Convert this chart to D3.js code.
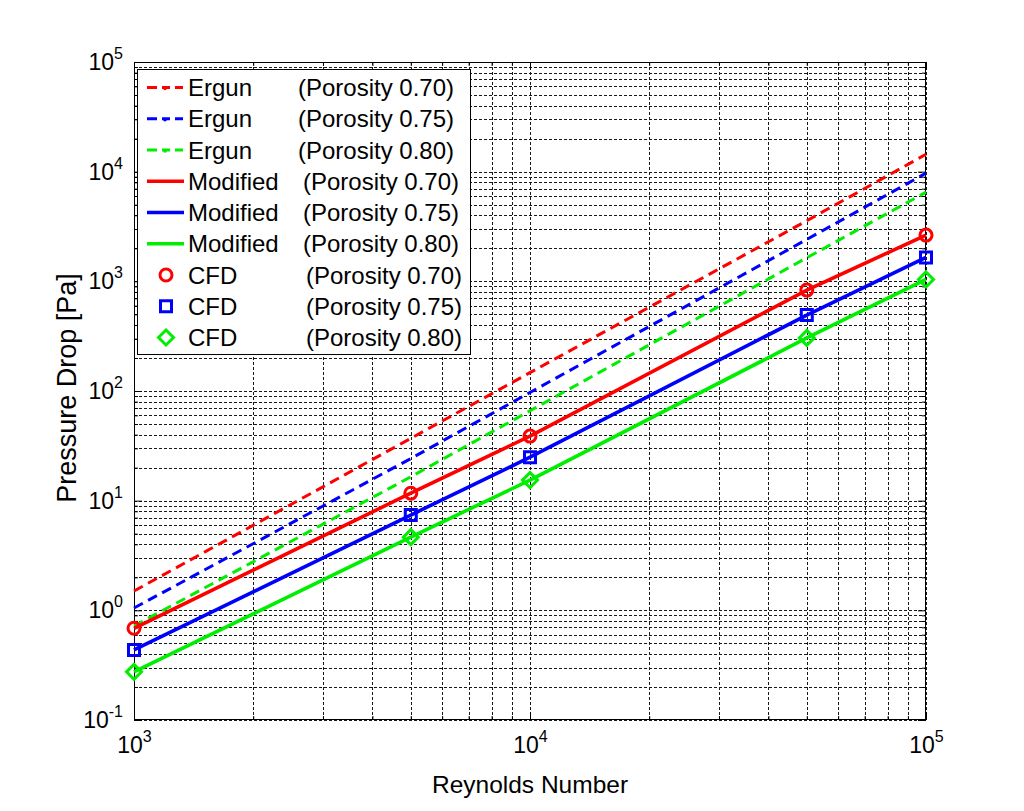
<!DOCTYPE html>
<html lang="en">
<head>
    <meta charset="UTF-8">
    <title>Pressure Drop vs Reynolds Number</title>
    <style>
        body { margin: 0; background: #fff; }
        svg { font-family: "Liberation Sans", Arial, sans-serif; }
        .axis path.domain { display: none; }
        .axis line { stroke: #000; stroke-width: 1; }
        .axis text { font-size: 23px; fill: #000; }
    </style>
</head>
<body>
    <svg width="1024" height="811"></svg>
    <script src="https://cdn.jsdelivr.net/npm/d3@7"></script>
    <script>
        // Reynolds numbers the curves / CFD runs were evaluated at
        var reynolds = [1e3, 5e3, 1e4, 5e4, 1e5];

        // Ergun equation (dashed)
        var ergun70 = [1.5, 37, 147, 3570, 14400];
        var ergun75 = [1.05, 24.2, 97, 2410, 9700];
        var ergun80 = [0.72, 16.5, 66, 1640, 6500];

        // Modified correlation (solid)
        var modified70 = [0.686, 11.7, 38.8, 832, 2640];
        var modified75 = [0.435, 7.4, 24.9, 492, 1650];
        var modified80 = [0.275, 4.65, 15.4, 305, 1040];

        // CFD results (markers)
        var cfd70 = [0.686, 11.7, 38.8, 832, 2640];
        var cfd75 = [0.435, 7.4, 24.9, 492, 1650];
        var cfd80 = [0.275, 4.65, 15.4, 305, 1040];

        var porosityLabels = ["(Porosity 0.70)", "(Porosity 0.75)", "(Porosity 0.80)"];
        var xTitle = "Reynolds Number";
        var yTitle = "Pressure Drop [Pa]";

        var colors = ["#ff0000", "#0000ff", "#00ee00"];

        // note: "top" is taken by window.top, hence the plot* names
        var svg = d3.select("svg"),
            plotLeft = 134, plotRight = 926, plotTop = 62, plotBottom = 720;

        svg.append("rect").attr("width", 1024).attr("height", 811).attr("fill", "#fff");

        var x = d3.scaleLog().domain([1e3, 1e5]).range([plotLeft, plotRight]);
        var y = d3.scaleLog().domain([0.1, 1e5]).range([plotBottom, plotTop]);

        var xAll = x.ticks(), yAll = y.ticks();
        function isMajor(d) { return Math.abs(Math.log10(d) - Math.round(Math.log10(d))) < 1e-9; }
        var xMajor = xAll.filter(isMajor), xMinor = xAll.filter(function(d) { return !isMajor(d); });
        var yMajor = yAll.filter(isMajor), yMinor = yAll.filter(function(d) { return !isMajor(d); });

        // dotted grid
        var grid = svg.append("g").attr("stroke", "#000").attr("stroke-width", 1)
            .attr("stroke-dasharray", "3,2").attr("opacity", 0.9);
        grid.selectAll(".gx").data(xAll).enter().append("line")
            .attr("x1", function(d) { return Math.round(x(d)) + 0.5; })
            .attr("x2", function(d) { return Math.round(x(d)) + 0.5; })
            .attr("y1", plotTop).attr("y2", plotBottom);
        grid.selectAll(".gy").data(yAll).enter().append("line")
            .attr("y1", function(d) { return Math.round(y(d)) + 0.5; })
            .attr("y2", function(d) { return Math.round(y(d)) + 0.5; })
            .attr("x1", plotLeft).attr("x2", plotRight);

        // ticks, inside, on all four sides
        function supLabels(sel) {
            sel.selectAll(".tick text").each(function(d) {
                var t = d3.select(this).text("");
                t.append("tspan").text("10");
                t.append("tspan").attr("dy", -11).attr("font-size", 16).text(Math.round(Math.log10(d)));
            });
        }

        svg.append("g").attr("class", "axis").attr("transform", "translate(0," + plotBottom + ")")
            .call(d3.axisBottom(x).tickValues(xMajor).tickSizeInner(-8).tickSizeOuter(0).tickPadding(17).tickFormat(function() { return ""; }))
            .call(supLabels);
        svg.append("g").attr("class", "axis").attr("transform", "translate(0," + plotBottom + ")")
            .call(d3.axisBottom(x).tickValues(xMinor).tickSizeInner(-4).tickSizeOuter(0).tickFormat(""));
        svg.append("g").attr("class", "axis").attr("transform", "translate(0," + plotTop + ")")
            .call(d3.axisTop(x).tickValues(xMajor).tickSizeInner(-8).tickSizeOuter(0).tickFormat(""));
        svg.append("g").attr("class", "axis").attr("transform", "translate(0," + plotTop + ")")
            .call(d3.axisTop(x).tickValues(xMinor).tickSizeInner(-4).tickSizeOuter(0).tickFormat(""));

        svg.append("g").attr("class", "axis").attr("transform", "translate(" + plotLeft + ",0)")
            .call(d3.axisLeft(y).tickValues(yMajor).tickSizeInner(-8).tickSizeOuter(0).tickPadding(11).tickFormat(function() { return ""; }))
            .call(supLabels);
        svg.append("g").attr("class", "axis").attr("transform", "translate(" + plotLeft + ",0)")
            .call(d3.axisLeft(y).tickValues(yMinor).tickSizeInner(-4).tickSizeOuter(0).tickFormat(""));
        svg.append("g").attr("class", "axis").attr("transform", "translate(" + plotRight + ",0)")
            .call(d3.axisRight(y).tickValues(yMajor).tickSizeInner(-8).tickSizeOuter(0).tickFormat(""));
        svg.append("g").attr("class", "axis").attr("transform", "translate(" + plotRight + ",0)")
            .call(d3.axisRight(y).tickValues(yMinor).tickSizeInner(-4).tickSizeOuter(0).tickFormat(""));

        // frame
        svg.append("rect").attr("x", plotLeft + 0.5).attr("y", plotTop + 0.5)
            .attr("width", plotRight - plotLeft - 1).attr("height", plotBottom - plotTop - 1)
            .attr("fill", "none").attr("stroke", "#000").attr("stroke-width", 1);

        // curves
        var line = d3.line()
            .x(function(d, i) { return x(reynolds[i]); })
            .y(function(d) { return y(d); });

        var ergun = [ergun70, ergun75, ergun80];
        var modified = [modified70, modified75, modified80];
        var cfd = [cfd70, cfd75, cfd80];

        var plot = svg.append("g");
        ergun.forEach(function(s, k) {
            plot.append("path").attr("d", line(s)).attr("fill", "none")
                .attr("stroke", colors[k]).attr("stroke-width", 3).attr("stroke-dasharray", "10,6");
        });
        modified.forEach(function(s, k) {
            plot.append("path").attr("d", line(s)).attr("fill", "none")
                .attr("stroke", colors[k]).attr("stroke-width", 3.6);
        });

        var markerPath = [
            "M6,0A6,6 0 1,1 -6,0A6,6 0 1,1 6,0Z",
            "M-5.5,-5.5H5.5V5.5H-5.5Z",
            "M0,-7.5L7.5,0L0,7.5L-7.5,0Z"
        ];
        cfd.forEach(function(s, k) {
            plot.selectAll(".m" + k).data(s).enter().append("path")
                .attr("transform", function(d, i) { return "translate(" + x(reynolds[i]) + "," + y(d) + ")"; })
                .attr("d", markerPath[k])
                .attr("fill", "none").attr("stroke", colors[k]).attr("stroke-width", 3);
        });

        // axis titles
        svg.append("text").attr("x", (plotLeft + plotRight) / 2).attr("y", 793)
            .attr("text-anchor", "middle").attr("font-size", 24.5).text(xTitle);
        svg.append("text").attr("transform", "translate(76,388) rotate(-90)")
            .attr("text-anchor", "middle").attr("font-size", 27).text(yTitle);

        // legend
        var legend = svg.append("g");
        legend.append("rect").attr("x", 137.5).attr("y", 69.5).attr("width", 333).attr("height", 285)
            .attr("fill", "#fff").attr("stroke", "#000").attr("stroke-width", 1);

        var entries = [];
        [["Ergun", "dash", 298], ["Modified", "solid", 303], ["CFD", "marker", 306]].forEach(function(grp) {
            porosityLabels.forEach(function(p, k) {
                entries.push({name: grp[0], kind: grp[1], px: grp[2], label: p, k: k});
            });
        });

        var rowY = function(i) { return 87.5 + i * 31.25; };
        entries.forEach(function(e, i) {
            var cy = rowY(i);
            if (e.kind === "dash") {
                legend.append("line").attr("x1", 147).attr("x2", 184).attr("y1", cy).attr("y2", cy)
                    .attr("stroke", colors[e.k]).attr("stroke-width", 3).attr("stroke-dasharray", "10,5,8,5,8");
                legend.append("circle").attr("cx", 165).attr("cy", cy + 1).attr("r", 1.8).attr("fill", colors[e.k]);
            } else if (e.kind === "solid") {
                legend.append("line").attr("x1", 147).attr("x2", 184).attr("y1", cy).attr("y2", cy)
                    .attr("stroke", colors[e.k]).attr("stroke-width", 3.6);
            } else {
                legend.append("path").attr("transform", "translate(166," + cy + ")").attr("d", markerPath[e.k])
                    .attr("fill", "none").attr("stroke", colors[e.k]).attr("stroke-width", 3);
            }
            legend.append("text").attr("x", 188).attr("y", cy + 8.5).attr("font-size", 24).text(e.name);
            legend.append("text").attr("x", e.px).attr("y", cy + 8.5).attr("font-size", 24).text(e.label);
        });
    </script>
</body>
</html>
